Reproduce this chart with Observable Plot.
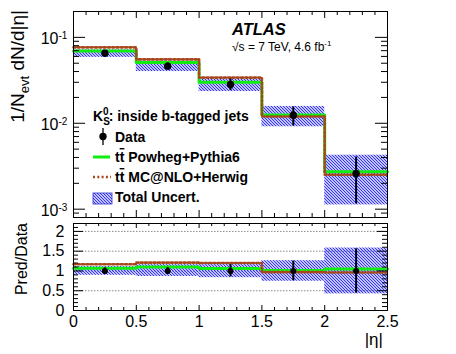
<!DOCTYPE html>
<html><head><meta charset="utf-8">
<script src="https://cdn.jsdelivr.net/npm/d3@7"></script>
<script src="https://cdn.jsdelivr.net/npm/@observablehq/plot@0.6"></script>
<style>
body{margin:0;background:#fff}
#chart{position:relative;width:456px;height:354px;font-family:"Liberation Sans",Arial,Helvetica,sans-serif;background:#fff}
#chart svg{position:absolute;left:0}
</style></head><body><div id="chart"></div>
<script>
// ---- data ----
const binLo  = [0, 0.5, 1, 1.5, 2];
const binHi  = [0.5, 1, 1.5, 2, 2.5];
const binMid = [0.25, 0.75, 1.25, 1.75, 2.25];
const dataVal   = [0.0652, 0.0462, 0.0283, 0.0124, 0.0026];
const dataErrLo = [0.0605, 0.0420, 0.0240, 0.0093, 0.00115];
const dataErrHi = [0.0705, 0.0505, 0.0328, 0.0155, 0.00405];
const powheg    = [0.0693, 0.0510, 0.0300, 0.01252, 0.00273];
const mcnlo     = [0.0765, 0.0555, 0.0340, 0.0120, 0.00252];
const bandLo    = [0.0585, 0.0400, 0.0234, 0.0091, 0.00112];
const bandHi    = [0.0715, 0.0530, 0.0328, 0.0157, 0.00425];
// ratio panel
const dataRatio   = [1, 1, 1, 1, 1];
const ratioErrLo  = [0.92, 0.91, 0.85, 0.75, 0.44];
const ratioErrHi  = [1.08, 1.09, 1.16, 1.25, 1.56];
const ratioBandLo = [0.89, 0.86, 0.83, 0.74, 0.42];
const ratioBandHi = [1.11, 1.16, 1.16, 1.26, 1.58];
const powhegRatio = [1.07, 1.10, 1.06, 1.01, 1.05];
const mcnloRatio  = [1.17, 1.21, 1.20, 0.97, 0.96];
// tick labels
const xTicks = [0, 0.5, 1, 1.5, 2, 2.5];
const xTickLabels = ["0", "0.5", "1", "1.5", "2", "2.5"];
const yTopTicks = [0.1, 0.01, 0.001];
const yTopExp = ["-1", "-2", "-3"];
const yRatioTicks = [0, 0.5, 1, 1.5, 2];
const yRatioLabels = ["0", "0.5", "1", "1.5", "2"];
const ratioGrid = [0.5, 1, 1.5, 2];

// ---- styling ----
const FONT = '"Liberation Sans", Arial, Helvetica, sans-serif';
const GREEN = "#10ee10";
const BROWN = "#a8461c";
const BLUE = "#2a2aff";
const DOTS = "2,2.3";
const W = 456, ML = 73, MR = 69;
const FW = W - ML - MR;

const bins = binLo.map((lo, i) => ({
  lo, hi: binHi[i], mid: binMid[i], data: dataVal[i], errLo: dataErrLo[i], errHi: dataErrHi[i],
  bandLo: bandLo[i], bandHi: bandHi[i], rData: dataRatio[i], rErrLo: ratioErrLo[i], rErrHi: ratioErrHi[i],
  rBandLo: ratioBandLo[i], rBandHi: ratioBandHi[i]
}));
const stepPts = vals => [...binLo.map((x, i) => ({x, y: vals[i]})), {x: binHi[binHi.length - 1], y: vals[vals.length - 1]}];

const hatchDefs = id => () => {
  const defs = d3.create("svg:defs");
  const p = defs.append("pattern").attr("id", id).attr("patternUnits", "userSpaceOnUse").attr("width", 3).attr("height", 3);
  p.append("path").attr("d", "M-1,-1L4,4M-1,2L1,4M2,-1L4,1").attr("stroke", BLUE).attr("stroke-width", 1.1);
  return defs.node();
};

// minor ticks
const xMinor = d3.range(0, 2.501, 0.1).filter(v => Math.abs(v * 2 - Math.round(v * 2)) > 1e-6);
const yLogMinor = [];
for (const k of [-4, -3, -2, -1]) for (let m = 2; m <= 9; m++) { const v = m * Math.pow(10, k); if (v >= 8e-4 && v < 0.2) yLogMinor.push(v); }
const yRatioMinor = d3.range(0, 2.201, 0.1).filter(v => Math.abs(v * 2 - Math.round(v * 2)) > 1e-6);

function edgeTicks(kind, values, len, frameLen) {
  if (kind === "y") return [
    Plot.tickY(values, {y: d => d, insetRight: FW - len, stroke: "black"}),
    Plot.tickY(values, {y: d => d, insetLeft: FW - len, stroke: "black"})
  ];
  return [
    Plot.tickX(values, {x: d => d, insetBottom: frameLen - len, stroke: "black"}),
    Plot.tickX(values, {x: d => d, insetTop: frameLen - len, stroke: "black"})
  ];
}

// ---- top panel ----
const HT = 218, MTt = 11, MBt = 1, FHt = HT - MTt - MBt;
const topPlot = Plot.plot({
  width: W, height: HT, marginTop: MTt, marginBottom: MBt, marginLeft: ML, marginRight: MR,
  style: {fontFamily: FONT, background: "transparent", overflow: "visible", color: "black"},
  x: {domain: [0, 2.5], axis: null},
  y: {type: "log", domain: [8e-4, 0.2], axis: null},
  marks: [
    hatchDefs("hatchTop"),
    Plot.rect(bins, {x1: "lo", x2: "hi", y1: "bandLo", y2: "bandHi", fill: "url(#hatchTop)"}),
    Plot.line(stepPts(powheg), {x: "x", y: "y", curve: "step-after", stroke: GREEN, strokeWidth: 3}),
    Plot.line(stepPts(mcnlo), {x: "x", y: "y", curve: "step-after", stroke: BROWN, strokeWidth: 2.6, strokeDasharray: DOTS}),
    Plot.ruleX(bins, {x: "mid", y1: "errLo", y2: "errHi", stroke: "black", strokeWidth: 2}),
    Plot.dot(bins, {x: "mid", y: "data", r: 3.7, fill: "black"}),
    ...edgeTicks("y", yTopTicks, 12),
    ...edgeTicks("y", yLogMinor, 6),
    ...edgeTicks("x", xTicks.slice(1, -1), 7, FHt),
    ...edgeTicks("x", xMinor, 4, FHt),
    Plot.text(yTopTicks, {y: d => d, frameAnchor: "left", text: () => "10", textAnchor: "end", dx: -15, dy: 7, lineAnchor: "bottom", fontSize: 16}),
    Plot.text(yTopTicks, {y: d => d, frameAnchor: "left", text: (d, i) => yTopExp[i], textAnchor: "start", dx: -15, dy: 1.5, lineAnchor: "bottom", fontSize: 10}),
    Plot.frame({stroke: "black"})
  ]
});
topPlot.style.top = "0px";
document.getElementById("chart").appendChild(topPlot);

// ---- ratio panel ----
const HB = 136, MTb = 5, MBb = 44, FHb = HB - MTb - MBb;
const botPlot = Plot.plot({
  width: W, height: HB, marginTop: MTb, marginBottom: MBb, marginLeft: ML, marginRight: MR,
  style: {fontFamily: FONT, background: "transparent", overflow: "visible", color: "black"},
  x: {domain: [0, 2.5]},
  y: {domain: [0, 2.2]},
  marks: [
    hatchDefs("hatchBot"),
    Plot.ruleY(ratioGrid, {y: d => d, stroke: "#8a8a8a", strokeDasharray: "1.5,1.5"}),
    Plot.rect(bins, {x1: "lo", x2: "hi", y1: "rBandLo", y2: "rBandHi", fill: "url(#hatchBot)"}),
    Plot.line(stepPts(powhegRatio), {x: "x", y: "y", curve: "step-after", stroke: GREEN, strokeWidth: 3}),
    Plot.line(stepPts(mcnloRatio), {x: "x", y: "y", curve: "step-after", stroke: BROWN, strokeWidth: 2.6, strokeDasharray: DOTS}),
    Plot.ruleX(bins, {x: "mid", y1: "rErrLo", y2: "rErrHi", stroke: "black", strokeWidth: 2}),
    Plot.dot(bins, {x: "mid", y: "rData", r: 3, fill: "black"}),
    ...edgeTicks("y", yRatioTicks, 10),
    ...edgeTicks("y", yRatioMinor, 5),
    ...edgeTicks("x", xTicks.slice(1, -1), 5, FHb),
    ...edgeTicks("x", xMinor, 3, FHb),
    Plot.axisX(xTicks, {tickSize: 0, tickPadding: 5, fontSize: 16, tickFormat: (d, i) => xTickLabels[i], label: null}),
    Plot.axisY(yRatioTicks, {tickSize: 0, tickPadding: 9, fontSize: 16, tickFormat: (d, i) => yRatioLabels[i], label: null}),
    Plot.frame({stroke: "black"})
  ]
});
botPlot.style.top = "218px";
document.getElementById("chart").appendChild(botPlot);

// ---- overlay: labels & legend ----
const ov = d3.select("#chart").append("svg")
  .attr("width", W).attr("height", 354)
  .style("top", "0px").style("pointer-events", "none")
  .style("font-family", FONT);
const od = ov.append("defs").append("pattern").attr("id", "hatchLeg").attr("patternUnits", "userSpaceOnUse").attr("width", 3).attr("height", 3);
od.append("path").attr("d", "M-1,-1L4,4M-1,2L1,4M2,-1L4,1").attr("stroke", BLUE).attr("stroke-width", 1.1);

// y title (top)
const yt = ov.append("text").attr("transform", "translate(24,10) rotate(-90)").attr("text-anchor", "end").attr("font-size", 19);
yt.append("tspan").text("1/N");
yt.append("tspan").attr("font-size", 13).attr("dy", 5).text("evt");
yt.append("tspan").attr("dy", -5).text(" dN/d|η|");

// y title (ratio)
ov.append("text").attr("transform", "translate(27,223) rotate(-90)").attr("text-anchor", "end").attr("font-size", 16).text("Pred/Data");
// x title
ov.append("text").attr("x", 383).attr("y", 345).attr("text-anchor", "end").attr("font-size", 17).text("|η|");

// ATLAS label
ov.append("text").attr("x", 232).attr("y", 35).attr("font-size", 16.5).attr("font-weight", "bold").attr("font-style", "italic").text("ATLAS");
const en = ov.append("text").attr("x", 232).attr("y", 50.5).attr("font-size", 12);
en.append("tspan").text("√s = 7 TeV, 4.6 fb");
en.append("tspan").attr("font-size", 8).attr("dy", -5).text("-1");

// legend
const lg = ov.append("g").attr("font-weight", "bold").attr("font-size", 14);
const k = lg.append("text").attr("x", 93).attr("y", 121);
k.append("tspan").text("K");
k.append("tspan").attr("font-size", 10).attr("dy", 3.5).text("S");
k.append("tspan").attr("font-size", 10).attr("dx", -6.7).attr("dy", -10).text("0");
k.append("tspan").attr("dy", 6.5).text(": inside b-tagged jets");

lg.append("line").attr("x1", 103).attr("x2", 103).attr("y1", 128).attr("y2", 145).attr("stroke", "black").attr("stroke-width", 1.3);
lg.append("circle").attr("cx", 103).attr("cy", 136.5).attr("r", 3.7).attr("fill", "black");
lg.append("text").attr("x", 115).attr("y", 141.5).text("Data");

lg.append("line").attr("x1", 93).attr("x2", 110).attr("y1", 157).attr("y2", 157).attr("stroke", GREEN).attr("stroke-width", 3);
const t1 = lg.append("text").attr("x", 115).attr("y", 162);
t1.append("tspan").text("t");
t1.append("tspan").attr("text-decoration", "overline").text("t");
t1.append("tspan").text(" Powheg+Pythia6");

lg.append("line").attr("x1", 93).attr("x2", 111).attr("y1", 177).attr("y2", 177).attr("stroke", BROWN).attr("stroke-width", 2.6).attr("stroke-dasharray", DOTS);
const t2 = lg.append("text").attr("x", 115).attr("y", 182);
t2.append("tspan").text("t");
t2.append("tspan").attr("text-decoration", "overline").text("t");
t2.append("tspan").text(" MC@NLO+Herwig");

lg.append("rect").attr("x", 93).attr("y", 193).attr("width", 19).attr("height", 11).attr("fill", "url(#hatchLeg)").attr("stroke", "#3030c0").attr("stroke-width", 0.8);
lg.append("text").attr("x", 115).attr("y", 202).text("Total Uncert.");
</script>
</body></html>
